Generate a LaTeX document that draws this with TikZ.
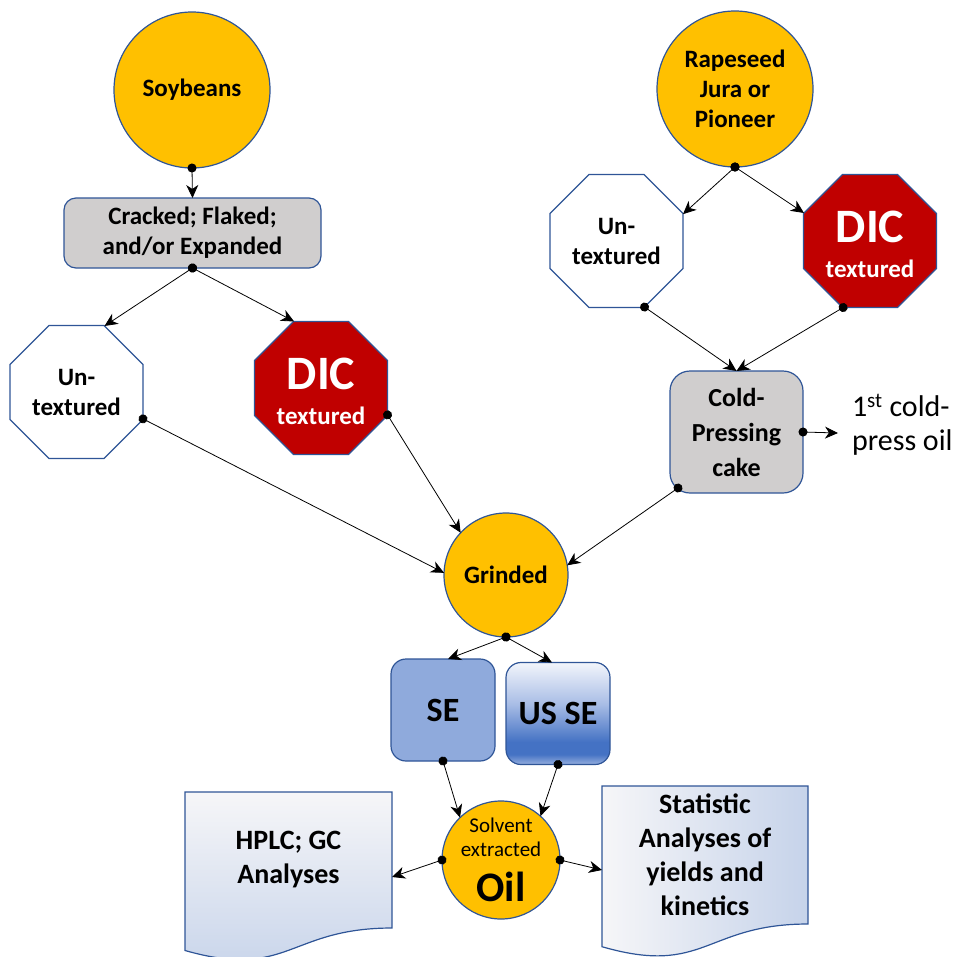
\documentclass[tikz,border=0pt]{standalone}
\usepackage{fontspec}
\setmainfont{Carlito}
\usetikzlibrary{arrows.meta,shapes.geometric,calc,backgrounds}
\definecolor{orng}{RGB}{255,192,0}
\definecolor{bdr}{RGB}{47,85,151}
\definecolor{boxgray}{RGB}{208,206,206}
\definecolor{dicred}{RGB}{192,0,0}
\definecolor{sefill}{RGB}{143,170,220}
\definecolor{ussedark}{RGB}{68,114,196}
\definecolor{usselow}{RGB}{150,175,222}
\definecolor{ussemid}{RGB}{170,190,230}
\definecolor{ussetop}{RGB}{242,245,251}
\definecolor{doctop}{RGB}{246,246,248}
\definecolor{docmid}{RGB}{230,230,232}
\definecolor{docblue}{RGB}{198,211,234}
\pgfdeclareverticalshading{usseshade}{100bp}{color(0bp)=(usselow); color(25bp)=(usselow); color(30bp)=(ussedark); color(36bp)=(ussedark); color(55bp)=(ussemid); color(75bp)=(ussetop); color(100bp)=(ussetop)}
\begin{document}
\begin{tikzpicture}[x=1pt,y=-1pt,
  every node/.style={inner sep=0pt, outer sep=0pt},
  lbl/.style={font=\fontsize{25}{30}\selectfont\bfseries, align=center},
  disk/.style={lbl, circle, draw=bdr, line width=1.2pt, fill=orng},
  oct/.style={lbl, regular polygon, regular polygon sides=8, minimum size=144pt, draw=bdr, line width=1.2pt},
  untex/.style={oct, fill=white},
  dic/.style={oct, fill=dicred, text=white},
  graybox/.style={lbl, rectangle, draw=bdr, fill=boxgray, line width=1.2pt},
  sebox/.style={rectangle, rounded corners=15pt, draw=bdr, line width=1.2pt, minimum width=104pt, minimum height=102pt, font=\fontsize{34}{40}\selectfont\bfseries},
  docbody/.style={lbl, font=\fontsize{28}{34}\selectfont\bfseries, rectangle},
  docline/.style={draw=bdr, line width=1.2pt},
  conn/.style={line width=0.8pt, {Circle[length=9pt]}-{Stealth[length=13pt,width=12pt,inset=4pt]}, shorten <=-4.5pt}
]
\useasboundingbox (0,0) rectangle (963,956);

% nodes
\node[disk, minimum size=156pt] (soy) at (192,90) {Soybeans};
\node[graybox, rounded corners=12pt, minimum width=257pt, minimum height=70pt] (crack) at (192.5,233) {Cracked; Flaked;\\and/or Expanded};
\node[untex] (untexL) at (76.5,392) {Un-\\textured};
\node[dic] (dicL) at (321,388) {{\fontsize{48}{48}\selectfont\rule{0pt}{38pt}DIC}\\[5pt]textured};

\node[disk, minimum size=156pt] (rape) at (735,89) {Rapeseed\\Jura or\\Pioneer};
\node[untex] (untexR) at (616.5,241) {Un-\\textured};
\node[dic] (dicR) at (870,241) {{\fontsize{48}{48}\selectfont\rule{0pt}{38pt}DIC}\\[5pt]textured};

\node[graybox, rounded corners=20pt, minimum width=133pt, minimum height=122pt, font=\fontsize{26}{35}\selectfont\bfseries] (cold) at (736.5,432) {Cold-\\Pressing\\cake};
\node[anchor=west, align=left, font=\fontsize{30}{34}\selectfont] (press) at (852,425) {1\textsuperscript{st} cold-\\press oil};
\coordinate (cpo) at (838,433);

\node[disk, minimum size=124pt] (grind) at (506,575) {Grinded};

\node[sebox, fill=sefill] (se) at (443,710) {SE};
\node[sebox, shading=usseshade] (usse) at (558,713.5) {US SE};

\node[disk, minimum size=118pt, font=\fontsize{21}{24}\selectfont] (oil) at (501,860) {Solvent\\extracted\\[15pt]{\fontsize{42}{42}\selectfont\bfseries Oil}};

\node[docbody, minimum width=207pt, minimum height=136pt, anchor=north west] (hplc) at (185,792) {HPLC; GC\\Analyses};
\node[docbody, minimum width=206pt, minimum height=138pt, anchor=north west] (stat) at (602,786) {Statistic\\Analyses of\\yields and\\kinetics};

\begin{scope}[on background layer]
\path[docline, top color=doctop, middle color=docmid, bottom color=docblue]
  (hplc.north west) -- (hplc.north east) -- (hplc.south east)
  .. controls (hplc.south) and ([yshift=-52pt]hplc.south) .. ([yshift=-22.5pt]hplc.south west) -- cycle;
\path[docline, left color=doctop, middle color=docmid, right color=docblue]
  (stat.north west) -- (stat.north east) -- (stat.south east)
  .. controls (stat.south) and ([yshift=-52.5pt]stat.south) .. ([yshift=-22.7pt]stat.south west) -- cycle;
\end{scope}

% connectors
\draw[conn] (soy.south) -- (crack.north);
\draw[conn] (crack.south) -- (untexL.67.5);
\draw[conn] (crack.south) -- (dicL.112.5);
\draw[conn] (untexL.-22.5) -- (grind.178);
\draw[conn] (dicL.-22.5) -- (grind.137);
\draw[conn] (rape.south) -- (untexR.22.5);
\draw[conn] (rape.south) -- (dicR.157.5);
\draw[conn] (untexR.-67.5) -- (cold.north);
\draw[conn] (dicR.-112.5) -- (cold.north);
\draw[conn] (cold.east) -- (cpo);
\draw[conn] ([xshift=8pt,yshift=5pt]cold.south west) -- (grind.9);
\draw[conn] (grind.south) -- ([xshift=5pt]se.north);
\draw[conn] (grind.south) -- ([xshift=-6pt]usse.north);
\draw[conn] (se.south) -- (oil.134);
\draw[conn] (usse.south) -- (oil.48);
\draw[conn] (oil.west) -- ([yshift=-17pt]hplc.east);
\draw[conn] (oil.east) -- ([yshift=-15pt]stat.west);
\end{tikzpicture}
\end{document}
